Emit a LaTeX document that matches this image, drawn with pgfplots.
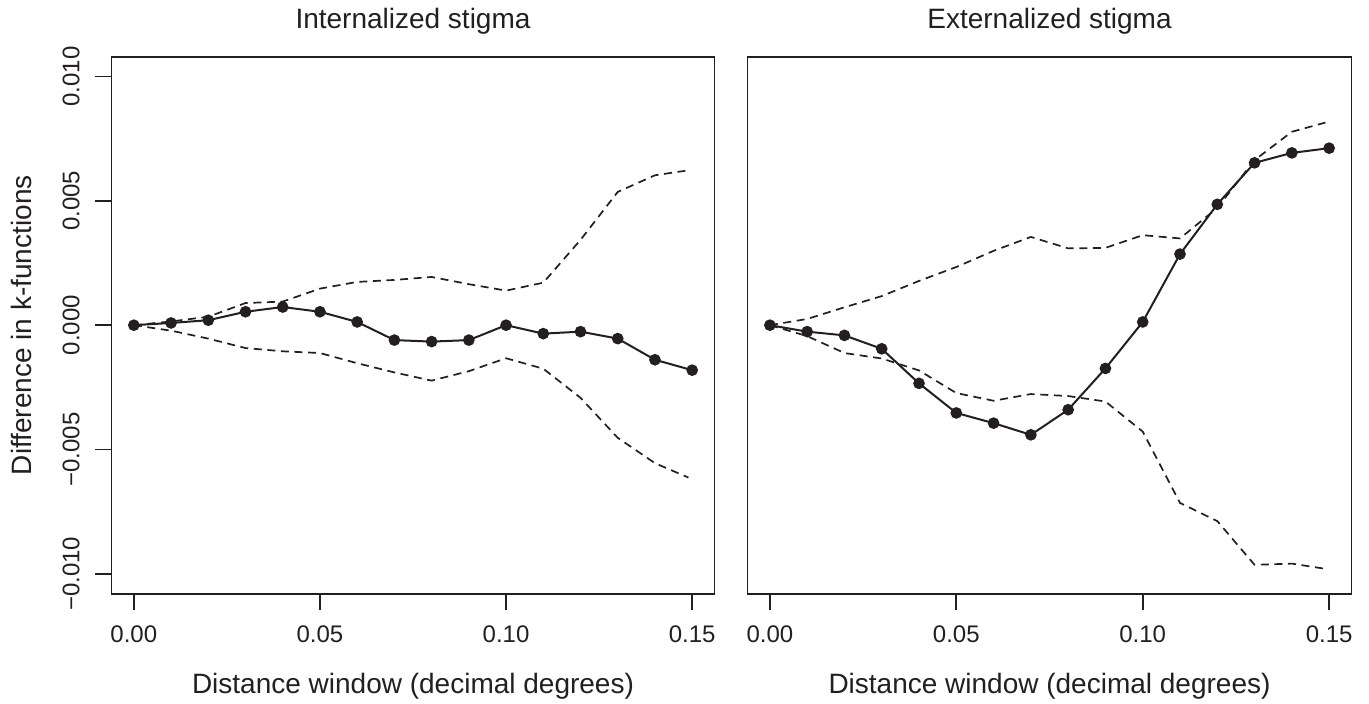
\documentclass[border=0pt]{standalone}
\usepackage{fontspec}
\setmainfont{Liberation Sans}
\usepackage{pgfplots}
\pgfplotsset{compat=1.18}
\definecolor{ink}{HTML}{231F20}
\pgfplotsset{
  kpanel/.style={
    scale only axis,
    width=301.5pt, height=268.5pt,
    xmin=-0.006, xmax=0.156, ymin=-0.0108, ymax=0.0108,
    axis line style={line width=0.85pt, draw=ink},
    every tick/.style={line width=0.85pt, draw=ink},
    tick align=outside, major tick length=8.15pt,
    xtick pos=left, ytick pos=left,
    minor tick num=0, scaled ticks=false,
    xtick={0,0.05,0.1,0.15},
    xticklabels={0.00,0.05,0.10,0.15},
    xticklabel style={anchor=base, inner sep=0pt, yshift=-16.2pt, font=\fontsize{12}{14}\selectfont, text=ink},
    xlabel style={at={(axis description cs:0.5,-0.1855)}, anchor=base, inner sep=0pt, font=\fontsize{14}{16}\selectfont, text=ink},
    title style={at={(axis description cs:0.5,1.0306)}, anchor=base, inner sep=0pt, font=\fontsize{14}{16}\selectfont, text=ink},
    xlabel={Distance window (decimal degrees)},
  },
  env/.style={ink, line width=0.85pt, dash pattern=on 4pt off 2.8pt},
  obs/.style={ink, line width=1pt, mark=*, mark size=2.4pt, mark options={solid, fill=ink, draw=ink}},
}
\begin{document}
\begin{tikzpicture}
\useasboundingbox (0,0) rectangle (684.5pt,352pt);
\begin{axis}[kpanel,
  at={(55.75pt,55.15pt)}, anchor=south west,
  title={Internalized stigma},
  ytick={-0.01,-0.005,0,0.005,0.01},
  yticklabels={−0.010,−0.005,0.000,0.005,0.010},
  yticklabel style={xshift=-7.95pt, rotate=90, anchor=base, inner sep=0pt, font=\fontsize{12}{14}\selectfont, text=ink},
  ylabel={Difference in k-functions},
  ylabel style={at={(axis description cs:-0.1323,0.5)}, anchor=base, inner sep=0pt, font=\fontsize{14}{16}\selectfont, text=ink},
]
\addplot[env] coordinates {
(0,0) (0.01,0.00015) (0.02,0.00034) (0.03,0.00089) (0.04,0.00095) (0.05,0.00147)
(0.06,0.00174) (0.07,0.00182) (0.08,0.00194) (0.09,0.00165) (0.10,0.00139)
(0.11,0.00171) (0.12,0.00343) (0.13,0.00536) (0.14,0.00603) (0.149,0.00623)};
\addplot[env] coordinates {
(0,0) (0.01,-0.00022) (0.02,-0.00054) (0.03,-0.00092) (0.04,-0.00105) (0.05,-0.00112)
(0.06,-0.00153) (0.07,-0.00190) (0.08,-0.00223) (0.09,-0.00185) (0.10,-0.00133)
(0.11,-0.00175) (0.12,-0.00292) (0.13,-0.00453) (0.14,-0.00555) (0.149,-0.00613)};
\addplot[obs] coordinates {
(0,0) (0.01,0.00009) (0.02,0.00020) (0.03,0.00054) (0.04,0.00073) (0.05,0.00054)
(0.06,0.00013) (0.07,-0.00060) (0.08,-0.00066) (0.09,-0.00060) (0.10,0.00000)
(0.11,-0.00034) (0.12,-0.00026) (0.13,-0.00054) (0.14,-0.00139) (0.15,-0.00181)};
\end{axis}
\begin{axis}[kpanel,
  at={(373.75pt,55.15pt)}, anchor=south west, width=302pt,
  title={Externalized stigma},
  ytick=\empty,
]
\addplot[env] coordinates {
(0,0) (0.01,0.00025) (0.02,0.00072) (0.03,0.00117) (0.04,0.00178) (0.05,0.00234)
(0.06,0.00299) (0.07,0.00355) (0.08,0.00309) (0.09,0.00311) (0.10,0.00362)
(0.11,0.00349) (0.12,0.00472) (0.13,0.00664) (0.14,0.00778) (0.149,0.00815)};
\addplot[env] coordinates {
(0,0) (0.01,-0.00044) (0.02,-0.00112) (0.03,-0.00134) (0.04,-0.00182) (0.05,-0.00273)
(0.06,-0.00304) (0.07,-0.00277) (0.08,-0.00285) (0.09,-0.00307) (0.10,-0.00428)
(0.11,-0.00715) (0.12,-0.00788) (0.13,-0.00964) (0.14,-0.00959) (0.149,-0.00980)};
\addplot[obs] coordinates {
(0,0) (0.01,-0.00026) (0.02,-0.00041) (0.03,-0.00095) (0.04,-0.00234) (0.05,-0.00353)
(0.06,-0.00394) (0.07,-0.00441) (0.08,-0.00340) (0.09,-0.00174) (0.10,0.00013)
(0.11,0.00286) (0.12,0.00486) (0.13,0.00653) (0.14,0.00693) (0.15,0.00712)};
\end{axis}
\end{tikzpicture}
\end{document}
